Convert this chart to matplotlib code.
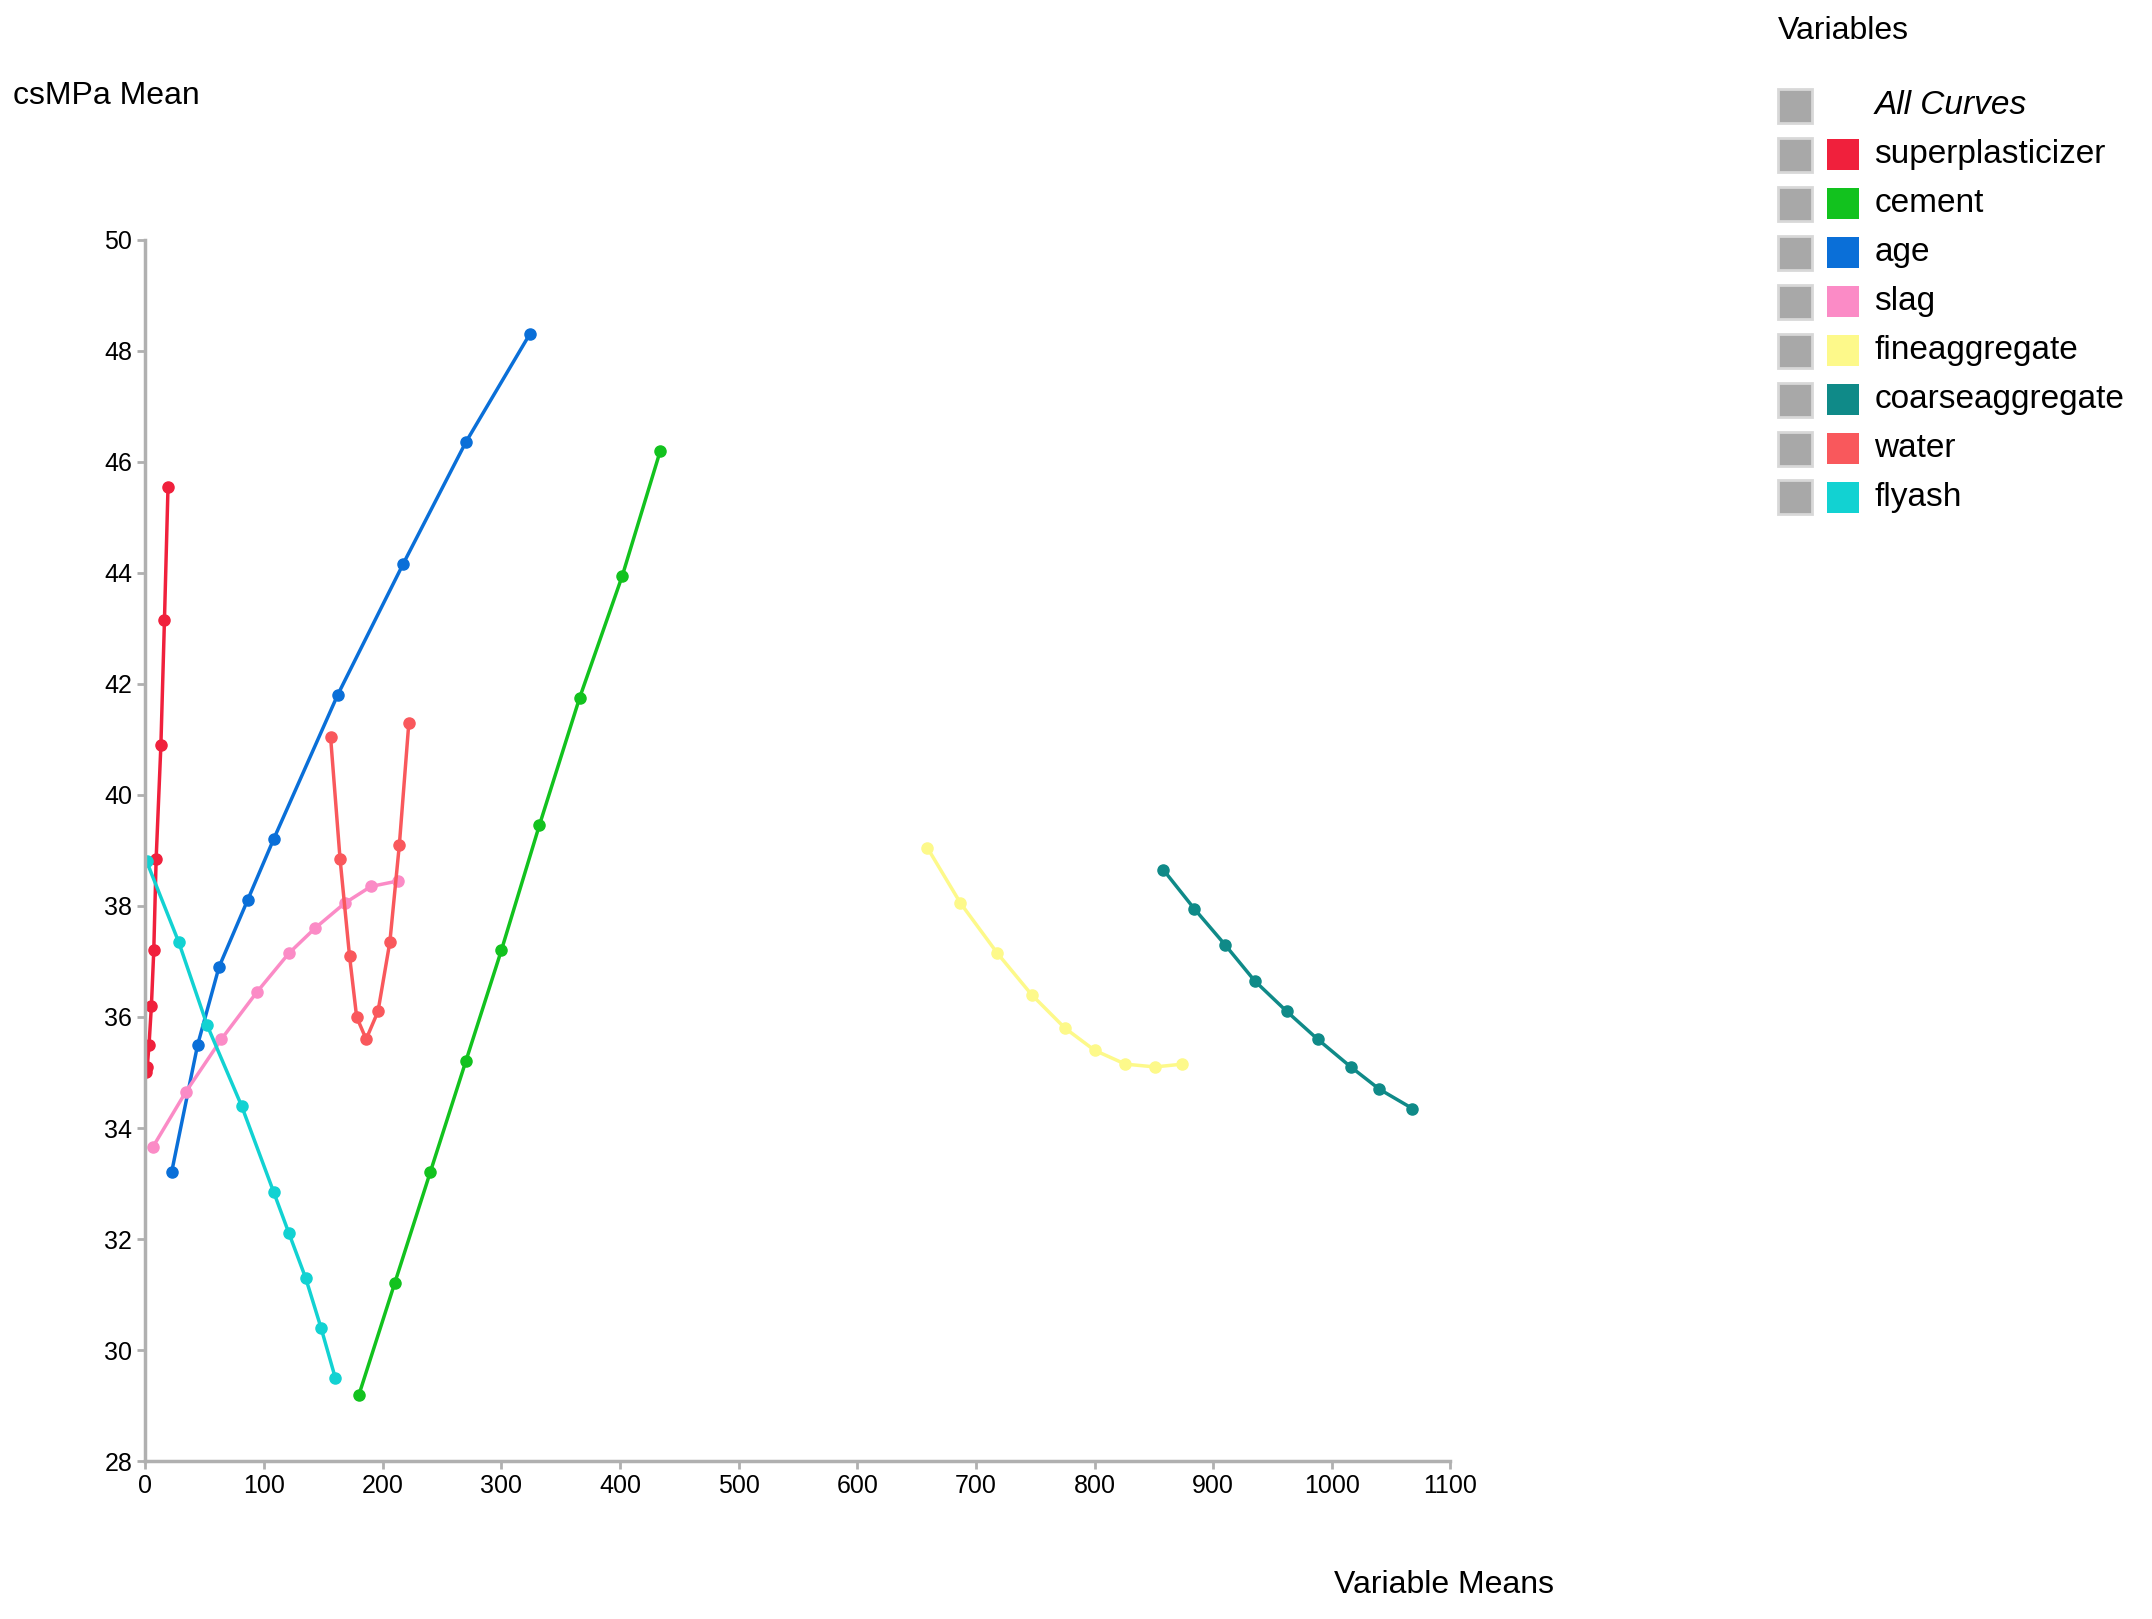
import matplotlib.pyplot as plt
from matplotlib.patches import Rectangle

plt.rcParams['font.family'] = ['Liberation Sans', 'DejaVu Sans']

names = ["superplasticizer", "cement", "age", "slag", "fineaggregate",
         "coarseaggregate", "water", "flyash"]
colors = ["#f0203c", "#12c21e", "#0a6fd8", "#fb8bc6", "#fdf98a",
          "#0f8a88", "#f9585c", "#12d2d2"]

sp_x = [0.5, 1.5, 3, 5, 7, 9, 13, 16, 19]
sp_y = [35.0, 35.1, 35.5, 36.2, 37.2, 38.85, 40.9, 43.15, 45.55]
cem_x = [180, 210, 240, 270, 300, 332, 366, 402, 434]
cem_y = [29.2, 31.2, 33.2, 35.2, 37.2, 39.45, 41.75, 43.95, 46.2]
age_x = [22, 44, 62, 86, 108, 162, 217, 270, 324]
age_y = [33.2, 35.5, 36.9, 38.1, 39.2, 41.8, 44.15, 46.35, 48.3]
slag_x = [6, 34, 64, 94, 121, 143, 168, 190, 213]
slag_y = [33.65, 34.65, 35.6, 36.45, 37.15, 37.6, 38.05, 38.35, 38.45]
fine_x = [659, 687, 718, 747, 775, 800, 826, 851, 874]
fine_y = [39.05, 38.05, 37.15, 36.4, 35.8, 35.4, 35.15, 35.1, 35.15]
coarse_x = [858, 884, 910, 935, 962, 988, 1016, 1040, 1068]
coarse_y = [38.65, 37.95, 37.3, 36.65, 36.1, 35.6, 35.1, 34.7, 34.35]
water_x = [156, 164, 172, 178, 186, 196, 206, 214, 222]
water_y = [41.05, 38.85, 37.1, 36.0, 35.6, 36.1, 37.35, 39.1, 41.3]
fly_x = [1, 28, 52, 81, 108, 121, 135, 148, 160]
fly_y = [38.8, 37.35, 35.85, 34.4, 32.85, 32.1, 31.3, 30.4, 29.5]

series = [(sp_x, sp_y), (cem_x, cem_y), (age_x, age_y), (slag_x, slag_y),
          (fine_x, fine_y), (coarse_x, coarse_y), (water_x, water_y), (fly_x, fly_y)]

fig = plt.figure(figsize=(21.52, 16.19), dpi=100)
ax = fig.add_axes([0.0676, 0.0975, 0.6064, 0.7545])
for (x, y), c in zip(series, colors):
    ax.plot(x, y, color=c, lw=2.5, marker="o", ms=8)

ax.set_xlim(0, 1100)
ax.set_ylim(28, 50)
ax.set_xticks(range(0, 1101, 100))
ax.set_yticks(range(28, 51, 2))
for s in ["top", "right"]:
    ax.spines[s].set_visible(False)
for s in ["left", "bottom"]:
    ax.spines[s].set_color("#b0b0b0")
    ax.spines[s].set_linewidth(2.5)
ax.tick_params(labelsize=18, color="#b0b0b0", width=2, length=6)

fig.text(0.006, 0.941, "csMPa Mean", fontsize=23, va="center")
fig.text(0.62, 0.021, "Variable Means", fontsize=23, va="center")
fig.text(0.826, 0.981, "Variables", fontsize=23, va="center")

rows = ["All Curves"] + names
for i, lab in enumerate(rows):
    yc = 1 - (77 + i * 35.7) / 1180
    fig.patches.append(Rectangle((0.826, yc - 0.0105), 0.016, 0.021, transform=fig.transFigure,
                                 facecolor="#a8a8a8", edgecolor="#d8d8d8", lw=2))
    if i > 0:
        fig.patches.append(Rectangle((0.849, yc - 0.0095), 0.015, 0.019, transform=fig.transFigure,
                                     facecolor=colors[i - 1], edgecolor="none"))
    fig.text(0.871, yc, lab, fontsize=24, va="center", style="italic" if i == 0 else "normal")

fig.savefig("out.png", dpi=100)
